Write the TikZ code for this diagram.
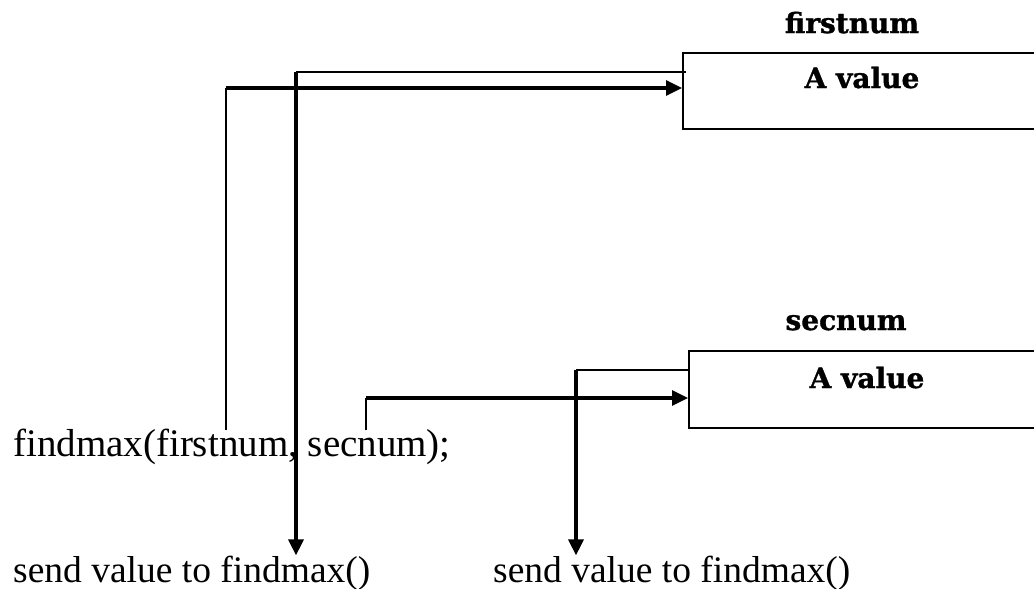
\documentclass[tikz,border=0pt]{standalone}
\usepackage{fontspec}
\setmainfont{Liberation Serif}
\newfontfamily\labelfont[FakeBold=1.2]{DejaVu Serif Bold}
\usetikzlibrary{arrows.meta}

\begin{document}
\begin{tikzpicture}[x=1pt,y=-1pt,
  thinline/.style={line width=1.8pt},
  thickline/.style={line width=3.2pt},
  arr/.style={-{Triangle[length=16pt,width=15pt]}},
  varbox/.style={draw,line width=2pt,minimum width=400pt,anchor=north west,inner sep=0pt},
  boldlbl/.style={font=\labelfont\fontsize{28}{34}\selectfont,inner sep=0pt,anchor=base},
  code/.style={font=\fontsize{39}{46}\selectfont,inner sep=0pt,anchor=base west},
  note/.style={font=\fontsize{37.5}{44}\selectfont,inner sep=0pt,anchor=base west}]
\useasboundingbox (0,0) rectangle (1034,589);
\clip (0,0) rectangle (1034,589);

% variable boxes (they run past the right edge)
\node[varbox,minimum height=76pt] (box1) at (682,52) {};
\node[varbox,minimum height=77pt] (box2) at (688,350) {};

% variable names and contents
\node[boldlbl] (name1) at (852,33) {firstnum};
\node[boldlbl] (val1) at (862,88) {A value};
\node[boldlbl] (name2) at (846,330) {secnum};
\node[boldlbl] (val2) at (867,388) {A value};

% the call and the two notes under it
\node[code] (call) at (13,456) {findmax(firstnum, secnum);};
\node[note] (note1) at (13,582) {send value to findmax()};
\node[note] (note2) at (493,582) {send value to findmax()};

% corner points of the connectors
\coordinate (c1) at (226,88);
\coordinate (c2) at (296,72);
\coordinate (c3) at (366,398);
\coordinate (c4) at (576,370);

% argument -> variable
\draw[thinline] ([yshift=-2pt]c1 |- call.north) -- (c1);
\draw[thinline] ([yshift=-2pt]c3 |- call.north) -- (c3);
% variable -> findmax()
\draw[thinline] ([xshift=4pt]box1.west |- c2) -- (c2);
\draw[thinline] (box2.west |- c4) -- (c4);

\draw[thickline,arr] (c1) -- (box1.west |- c1);
\draw[thickline,arr] (c3) -- (box2.west |- c3);
\draw[thickline,arr] (c2) -- (c2 |- note1.north);
\draw[thickline,arr] (c4) -- (c4 |- note2.north);
\end{tikzpicture}
\end{document}
